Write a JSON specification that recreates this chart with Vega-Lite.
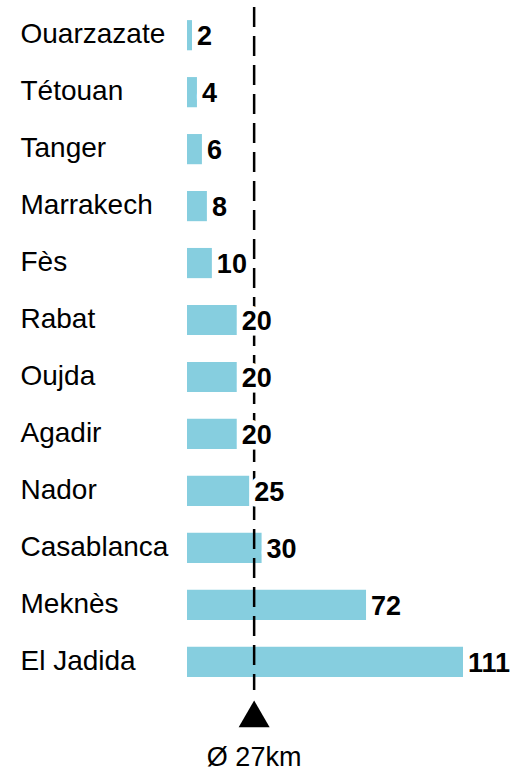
{
  "$schema": "https://vega.github.io/schema/vega-lite/v6.json",
  "width": 324,
  "height": 683,
  "autosize": {"type": "none"},
  "padding": {"left": 187, "top": 7, "right": 0, "bottom": 79},
  "background": "white",
  "config": {"view": {"stroke": null}, "font": "Liberation Sans"},
  "datasets": {
    "avg": [{"avg": 27, "label": "Ø 27km"}]
  },
  "data": {
    "values": [
      {"city": "Ouarzazate", "km": 2},
      {"city": "Tétouan", "km": 4},
      {"city": "Tanger", "km": 6},
      {"city": "Marrakech", "km": 8},
      {"city": "Fès", "km": 10},
      {"city": "Rabat", "km": 20},
      {"city": "Oujda", "km": 20},
      {"city": "Agadir", "km": 20},
      {"city": "Nador", "km": 25},
      {"city": "Casablanca", "km": 30},
      {"city": "Meknès", "km": 72},
      {"city": "El Jadida", "km": 111}
    ]
  },
  "layer": [
    {
      "mark": {"type": "bar", "color": "#86CEDF"},
      "encoding": {
        "y": {
          "field": "city",
          "type": "nominal",
          "sort": null,
          "scale": {
            "domain": ["Ouarzazate", "Tétouan", "Tanger", "Marrakech", "Fès", "Rabat", "Oujda", "Agadir", "Nador", "Casablanca", "Meknès", "El Jadida"],
            "paddingInner": 0.47,
            "paddingOuter": 0.23
          },
          "axis": {
            "title": null,
            "domain": false,
            "ticks": false,
            "tickSize": 0,
            "labelAlign": "left",
            "labelBaseline": "middle",
            "labelPadding": 167,
            "labelFontSize": 28,
            "labelFont": "Liberation Sans",
            "labelColor": "black",
            "labelLimit": 400
          }
        },
        "x": {
          "field": "km",
          "type": "quantitative",
          "scale": {"domain": [0, 130.3], "nice": false},
          "axis": null
        }
      }
    },
    {
      "data": {"name": "avg"},
      "mark": {"type": "rule", "strokeDash": [20, 9], "strokeWidth": 2.5, "color": "black"},
      "encoding": {"x": {"field": "avg", "type": "quantitative"}}
    },
    {
      "mark": {"type": "text", "align": "left", "baseline": "middle", "dx": 5, "dy": 2, "fontSize": 27, "fontWeight": "bold", "color": "white", "stroke": "white", "strokeWidth": 11, "strokeJoin": "round"},
      "encoding": {
        "y": {"field": "city", "type": "nominal", "sort": null},
        "x": {"field": "km", "type": "quantitative"},
        "text": {"field": "km", "type": "quantitative"}
      }
    },
    {
      "mark": {"type": "text", "align": "left", "baseline": "middle", "dx": 5, "dy": 2, "fontSize": 27, "fontWeight": "bold", "color": "black"},
      "encoding": {
        "y": {"field": "city", "type": "nominal", "sort": null},
        "x": {"field": "km", "type": "quantitative"},
        "text": {"field": "km", "type": "quantitative"}
      }
    },
    {
      "data": {"name": "avg"},
      "mark": {"type": "point", "shape": "triangle-up", "filled": true, "color": "black", "opacity": 1, "size": 960, "yOffset": 52},
      "encoding": {
        "x": {"field": "avg", "type": "quantitative"},
        "y": {"datum": "El Jadida", "type": "nominal"}
      }
    },
    {
      "data": {"name": "avg"},
      "mark": {"type": "text", "align": "center", "baseline": "alphabetic", "fontSize": 27, "color": "black", "yOffset": 104},
      "encoding": {
        "x": {"field": "avg", "type": "quantitative"},
        "y": {"datum": "El Jadida", "type": "nominal"},
        "text": {"field": "label"}
      }
    }
  ]
}
